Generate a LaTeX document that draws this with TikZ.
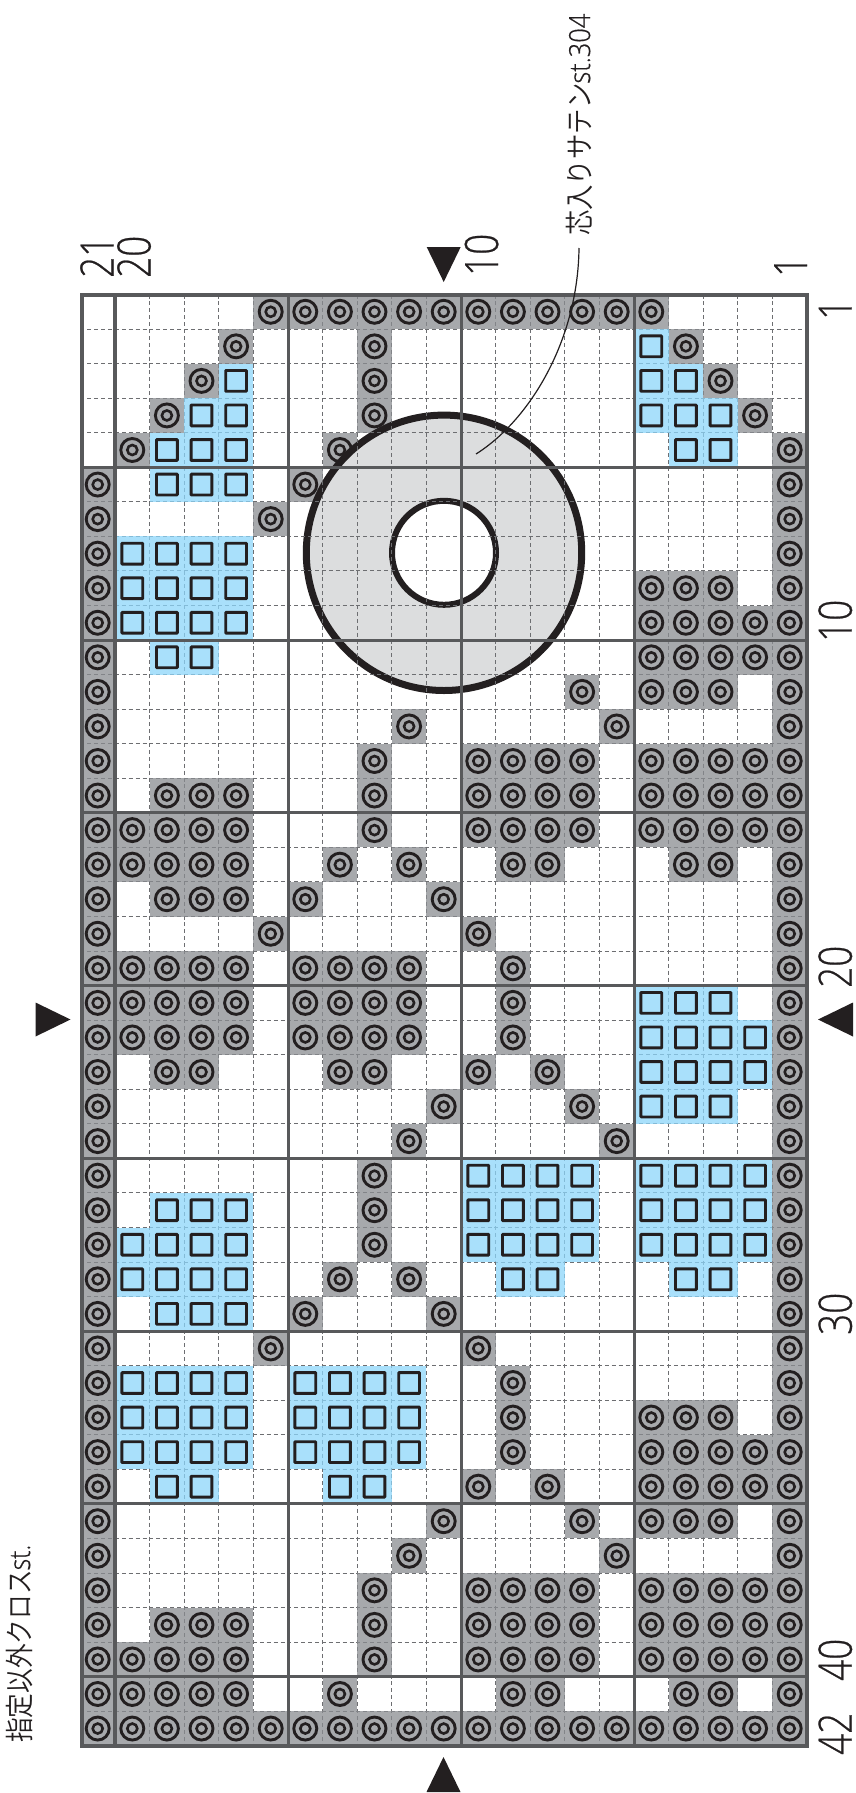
\documentclass[tikz,border=0pt]{standalone}
\usepackage{fontspec}
\setmainfont{Open Sans Light}[FakeBold=0.6]
\newfontfamily\cjk{Noto Sans CJK JP DemiLight}
\definecolor{cellgray}{HTML}{8A8C90}
\definecolor{cellblue}{HTML}{8CD6FA}
\definecolor{ringgray}{HTML}{DCDDDE}
\definecolor{gridgray}{HTML}{58595B}
\definecolor{dashgray}{HTML}{6D6E71}
\definecolor{inkblack}{HTML}{231F20}
\newcommand\dignum[1]{\scalebox{0.8}[1]{\fontsize{46}{46}\selectfont #1}}
\newcommand\dashlines{%
  \foreach \c in {1,...,20} \draw[dashgrid] (\c,0) -- (\c,42);
  \foreach \r in {1,...,41} \draw[dashgrid] (0,\r) -- (21,\r);
}
\tikzset{
  numlabel/.style={rotate=90,anchor=base west,inner sep=0pt,text=inkblack},
  marktri/.style={fill=inkblack,draw=none},
  thinlead/.style={draw=inkblack,line width=1.2pt},
  heavy/.style={draw=gridgray,line width=3pt},
  outer/.style={draw=gridgray,line width=4pt},
  dashgrid/.style={draw=dashgray,line width=1pt,dash pattern=on 4pt off 2.9pt},
  gridframe/.style={shift={(80.4,294.5)},x=34.6pt,y=-34.555pt},
}
\begin{document}
\begin{tikzpicture}[x=1pt,y=-1pt]
\useasboundingbox (0,0) rectangle (855,1793);
\begin{scope}[gridframe]
  \dashlines
  % circle cells
  \foreach \r/\cols in {
    0/{5,6,...,16},1/{4,8,17},2/{3,8,18},3/{2,8,19},4/{1,7,20},5/{0,6,20},6/{0,5,20},7/{0,20},
    8/{0,16,17,18,20},9/{0,16,17,18,19,20},10/{0,16,17,18,19,20},11/{0,14,16,17,18,20},12/{0,9,15,20},
    13/{0,8,11,12,13,14,16,17,18,19,20},14/{0,2,3,4,8,11,12,13,14,16,17,18,19,20},
    15/{0,1,2,3,4,8,11,12,13,14,16,17,18,19,20},16/{0,1,2,3,4,7,9,12,13,17,18,20},
    17/{0,2,3,4,6,10,20},18/{0,5,11,20},19/{0,1,2,3,4,6,7,8,9,12,20},20/{0,1,2,3,4,6,7,8,9,12,20},
    21/{0,1,2,3,4,6,7,8,9,12,20},22/{0,2,3,7,8,11,13,20},23/{0,10,14,20},24/{0,9,15,20},
    25/{0,8,20},26/{0,8,20},27/{0,8,20},28/{0,7,9,20},29/{0,6,10,20},30/{0,5,11,20},
    31/{0,12,20},32/{0,12,16,17,18,20},33/{0,12,16,17,18,19,20},34/{0,11,13,16,17,18,19,20},
    35/{0,10,14,16,17,18,20},36/{0,9,15,20},37/{0,8,11,12,13,14,16,17,18,19,20},
    38/{0,2,3,4,8,11,12,13,14,16,17,18,19,20},39/{0,1,2,3,4,8,11,12,13,14,16,17,18,19,20},
    40/{0,1,2,3,4,7,12,13,17,18,20},41/{0,1,...,20}}{
    \foreach \c in \cols {
      \fill[cellgray,fill opacity=.75] (\c,\r) rectangle ++(1,1);
      \draw[inkblack,line width=2.9pt] (\c+.5,\r+.5) circle[radius=11.5pt];
      \draw[inkblack,line width=2.6pt] (\c+.5,\r+.5) circle[radius=5pt];
    }
  }
  % square cells
  \foreach \r/\cols in {
    1/{16},2/{4,16,17},3/{3,4,16,17,18},4/{2,3,4,17,18},5/{2,3,4},
    7/{1,2,3,4},8/{1,2,3,4},9/{1,2,3,4},10/{2,3},
    20/{16,17,18},21/{16,17,18,19},22/{16,17,18,19},23/{16,17,18},
    25/{11,12,13,14,16,17,18,19},26/{2,3,4,11,12,13,14,16,17,18,19},
    27/{1,2,3,4,11,12,13,14,16,17,18,19},28/{1,2,3,4,12,13,17,18},29/{2,3,4},
    31/{1,2,3,4,6,7,8,9},32/{1,2,3,4,6,7,8,9},33/{1,2,3,4,6,7,8,9},34/{2,3,7,8}}{
    \foreach \c in \cols {
      \fill[cellblue,fill opacity=.75] (\c,\r) rectangle ++(1,1);
      \draw[inkblack,line width=2.9pt,rounded corners=.6pt]
        ([xshift=-10.4pt,yshift=-10.4pt]\c+.5,\r+.5) rectangle ([xshift=10.4pt,yshift=10.4pt]\c+.5,\r+.5);
    }
  }
\end{scope}
% core ring
\fill[ringgray] (444,552.8) circle[radius=137.7pt];
\fill[white] (444,552.8) circle[radius=52pt];
\draw[inkblack,line width=7pt] (444,552.8) circle[radius=137.7pt];
\draw[inkblack,line width=6pt] (444,552.8) circle[radius=52pt];
\begin{scope}
  \clip (444,552.8) circle[radius=141pt];
  \begin{scope}[gridframe]
    \dashlines
  \end{scope}
\end{scope}
\begin{scope}[gridframe]
  % heavy lines
  \foreach \c in {6,11,16} \draw[heavy] (\c,0) -- (\c,42);
  \draw[outer] (1,0) -- (1,42);
  \foreach \r in {5,10,...,40} \draw[heavy] (0,\r) -- (21,\r);
  \draw[outer,line join=miter] (0.045,0) rectangle (21,42);
\end{scope}
% leader
\coordinate (leadA) at (476,454);
\coordinate (leadB) at (579,248);
\draw[thinlead] (leadA) .. controls (530,420) and (578,340) .. (leadB);
% triangles
\fill[marktri] (426.7,247) -- (460.7,247) -- (443.7,282) -- cycle;
\fill[marktri] (426.5,1792) -- (460.5,1792) -- (443.5,1757) -- cycle;
\fill[marktri] (35.5,1002.5) -- (35.5,1036.5) -- (70.5,1019.5) -- cycle;
\fill[marktri] (853,1002.5) -- (853,1036.5) -- (818,1019.5) -- cycle;
% numbers
\node[numlabel] (n21) at (113.5,278) {\dignum{21}};
\node[numlabel] (n20) at (150.5,278) {\dignum{20}};
\node[numlabel] (n10) at (498,276) {\dignum{10}};
\node[numlabel] (n1)  at (807,277) {\dignum{1}};
\node[numlabel] (r1)  at (851.7,320) {\dignum{1}};
\node[numlabel] (r10) at (851.7,642) {\dignum{10}};
\node[numlabel] (r20) at (851.7,988) {\dignum{20}};
\node[numlabel] (r30) at (851.7,1335) {\dignum{30}};
\node[numlabel] (r40) at (851.7,1681) {\dignum{40}};
\node[numlabel] (r42) at (851.7,1755) {\dignum{42}};
% texts
\node[numlabel] (core) at (590,236) {\scalebox{0.875}[1]{\fontsize{29}{29}\selectfont{\cjk 芯入りサテン}st.304}};
\node[numlabel] (other) at (30,1743) {\scalebox{0.85}[1]{\fontsize{29}{29}\selectfont{\cjk 指定以外クロス}st.}};
\end{tikzpicture}
\end{document}
